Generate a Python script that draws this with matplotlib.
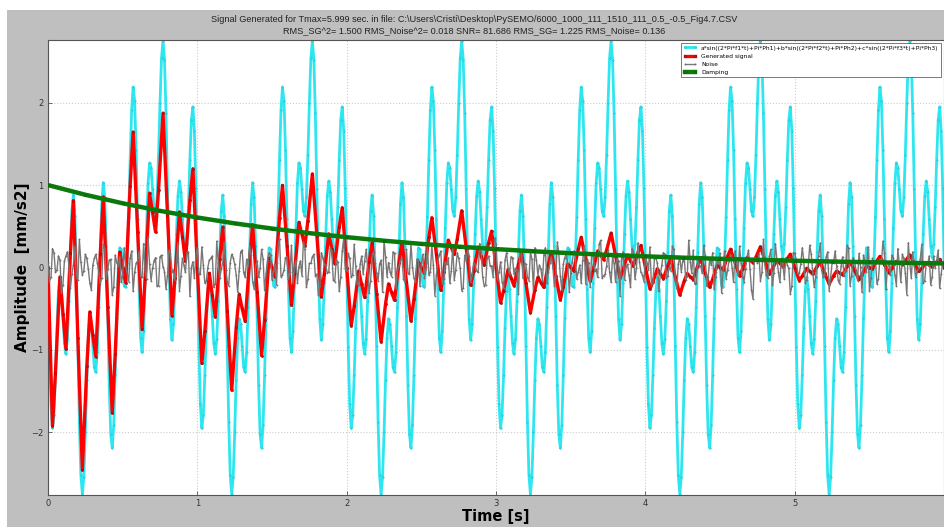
import matplotlib
matplotlib.use('Agg')
import matplotlib.pyplot as plt
from matplotlib.patches import Rectangle
import numpy as np

# --- values ------------------------------------------------------------
# pure signal, one second of it (sampled every 0.01 s); the pattern repeats each second
cyan_cycle = [0.00, -0.96, -1.66, -1.95, -1.79, -1.31, -0.73, -0.28, -0.12, -0.26,
              -0.59, -0.92, -1.05, -0.87, -0.41, 0.19, 0.69, 0.88, 0.63, -0.03,
              -0.95, -1.87, -2.52, -2.75, -2.54, -2.00, -1.36, -0.85, -0.62, -0.69,
              -0.95, -1.21, -1.27, -1.02, -0.48, 0.19, 0.77, 1.03, 0.85, 0.26,
              -0.59, -1.43, -2.02, -2.19, -1.91, -1.31, -0.61, -0.05, 0.24, 0.22,
              0.00, -0.22, -0.24, 0.05, 0.61, 1.31, 1.91, 2.19, 2.02, 1.43,
              0.59, -0.26, -0.85, -1.03, -0.77, -0.19, 0.48, 1.02, 1.27, 1.21,
              0.95, 0.69, 0.62, 0.85, 1.36, 2.00, 2.54, 2.75, 2.52, 1.87,
              0.95, 0.03, -0.63, -0.88, -0.69, -0.19, 0.41, 0.87, 1.05, 0.92,
              0.59, 0.26, 0.12, 0.28, 0.73, 1.31, 1.79, 1.95, 1.66, 0.96]

# generated (damped) signal: sample positions inside each second, in 1/100 s
red_k = [0, 3, 5, 8, 10, 12, 15, 17, 20, 23, 26, 28, 30, 32, 35, 37, 40, 43, 45, 48,
         50, 52, 55, 57, 60, 63, 65, 68, 70, 72, 74, 77, 80, 83, 85, 88, 90, 92, 95, 97]
red_s0 = [0, -1.919, -1.277, -0.114, -0.559, -0.987, 0.177, 0.812, -0.860, -2.453,
          -1.195, -0.538, -0.819, -1.080, 0.160, 0.857, -0.481, -1.763, -1.045, 0.187,
          0, -0.184, 0.994, 1.644, 0.436, -0.752, -0.138, 0.903, 0.670, 0.432,
          0.940, 1.873, 0.637, -0.584, -0.125, 0.675, 0.375, 0.075, 0.814, 1.199]
red_s1 = [0, -1.164, -0.775, -0.069, -0.339, -0.599, 0.107, 0.492, -0.522, -1.488,
          -0.725, -0.326, -0.497, -0.655, 0.097, 0.520, -0.292, -1.069, -0.634, 0.113,
          0, -0.112, 0.603, 0.997, 0.264, -0.456, -0.084, 0.548, 0.406, 0.262,
          0.570, 1.136, 0.386, -0.354, -0.076, 0.409, 0.227, 0.045, 0.494, 0.727]
red_s2 = [0, -0.706, -0.470, -0.042, -0.206, -0.363, 0.065, 0.299, -0.316, -0.902,
          -0.440, -0.198, -0.301, -0.397, 0.059, 0.315, -0.177, -0.649, -0.384, 0.069,
          0, -0.068, 0.366, 0.605, 0.160, -0.277, -0.051, 0.332, 0.246, 0.159,
          0.346, 0.689, 0.234, -0.215, -0.046, 0.248, 0.138, 0.028, 0.299, 0.441]
red_s3 = [0, -0.428, -0.285, -0.025, -0.125, -0.220, 0.039, 0.181, -0.192, -0.547,
          -0.267, -0.120, -0.183, -0.241, 0.036, 0.191, -0.107, -0.393, -0.233, 0.042,
          0, -0.041, 0.222, 0.367, 0.097, -0.168, -0.031, 0.201, 0.149, 0.096,
          0.210, 0.418, 0.142, -0.130, -0.028, 0.151, 0.084, 0.017, 0.182, 0.267]
red_s4 = [0, -0.260, -0.173, -0.015, -0.076, -0.134, 0.024, 0.110, -0.116, -0.332,
          -0.162, -0.073, -0.111, -0.146, 0.022, 0.116, -0.065, -0.239, -0.141, 0.025,
          0, -0.025, 0.134, 0.222, 0.059, -0.102, -0.019, 0.122, 0.091, 0.058,
          0.127, 0.253, 0.086, -0.079, -0.017, 0.091, 0.051, 0.010, 0.110, 0.162]
red_s5 = [0, -0.158, -0.105, -0.009, -0.046, -0.081, 0.015, 0.067, -0.071, -0.201,
          -0.098, -0.044, -0.067, -0.089, 0.013, 0.070, -0.039, -0.145, -0.086, 0.015,
          0, -0.015, 0.082, 0.135, 0.036, -0.062, -0.011, 0.074, 0.055, 0.035,
          0.077, 0.154, 0.052, -0.048, -0.010, 0.055, 0.031, 0.006, 0.067, 0.098]

# noise in hundredths of mm/s2: samples at t = 0.00, 0.02, 0.04 ... (a)
# and at t = 0.01, 0.03, 0.05 ... (b)
noise_a = [
    5, -12, 18, -3, 9, -21, 14, 2, -8, 26, -15, 7, -4, 11, -19, 3, 16, -7, -13, 22,
    -2, 10, -24, 6, 13, -9, 1, -17, 20, -6, 8, -11, 29, -14, 4, -1, 12, -22, 15, -5,
    -10, 17, -3, 7, -28, 11, -6, 19, 0, -13, 24, -8, 3, -16, 9, 14, -20, 5, -2, 31,
    -18, 6, 12, -9, -4, 21, -12, 2, 15, -26, 8, -1, 10, -7, 18, -15, 4, 27, -11, -3,
    13, -6, -19, 9, 1, -10, 23, -14, 5, 16, -8, -23, 12, 3, -5, 20, -17, 7, -12, 36,
    -4, 11, -9, 2, -21, 14, 8, -2, -16, 19, -7, 4, -30, 13, 6, -11, 17, -3, 9, -14,
    22, -8, 1, -18, 10, 5, -13, 25, -6, 3, -9, 15, -20, 7, 12, -4, -15, 18, -1, -25,
    8, 14, -10, 3, -6, 19, -22, 11, 2, -12, 28, -5, -17, 9, 0, 13, -8, -3, 21, -13,
    4, -16, 10, 24, -9, -2, 15, -19, 6, 1, -11, 17, -27, 12, 5, -7, 20, -14, 3, 9,
    -20, 6, 16, -4, -12, 33, -10, 2, -6, 13, -18, 8, 11, -15, 4, -24, 19, -1, 7, -9,
    14, -3, -21, 10, 5, -8, 18, -13, 1, 26, -16, 4, -5, 12, -10, 7, 21, -19, 2, -7,
    15, -11, 3, -26, 9, 17, -4, -14, 8, 0, 20, -9, 6, -17, 13, -2, -38, 11, 16, -6,
    3, -13, 22, -7, 10, -18, 5, 12, -1, -23, 17, -8, 4, 9, -15, 27, -5, -11, 14, -3,
    -9, 19, -12, 6, 2, -20, 13, -4, 24, -10, 7, -16, 1, 15, -6, -28, 11, 8, -14, 5,
    18, -2, -9, 12, -22, 4, 16, -7, 30, -13, 2, -5, 10, -19, 6, 14, -11, -1, 21, -8]
noise_b = [
    -17, 23, -6, 14, -31, 8, 19, -25, 3, -12, 34, -9, 16, -2, -27, 11, 6, -20, 28, -14,
    9, -33, 15, 2, -18, 24, -7, 12, -29, 5, 20, -11, -4, 37, -16, 8, -23, 13, 1, -26,
    21, -5, -15, 30, -10, 3, 18, -35, 7, 14, -8, 25, -19, 0, 11, -24, 32, -13, 6, -3,
    -22, 16, 4, -30, 19, -6, 10, 26, -17, 2, -12, 22, -28, 9, 15, -4, -21, 35, -9, 12,
    -14, 27, -1, -19, 8, 31, -24, 5, 13, -10, -33, 18, 3, -7, 24, -15, 10, -29, 20, -2,
    17, -12, 28, -20, 4, -8, 22, -31, 14, 6, -16, 9, 33, -11, -5, 19, -26, 2, 12, -18,
    -7, 30, -13, 10, -23, 16, 1, -9, 27, -34, 8, 20, -14, 4, -19, 25, -3, 11, -28, 15,
    23, -17, 6, -4, 29, -11, -21, 14, 2, 36, -15, 7, -25, 18, -8, 12, -1, -32, 21, 5,
    -12, 19, -27, 9, 3, -16, 24, -6, 13, -22, 31, -10, 4, 17, -30, 7, 15, -5, -19, 26,
    10, -24, 14, -2, 28, -13, -8, 21, -18, 5, 11, -35, 19, 1, -9, 23, -14, 30, -6, -17,
    6, 25, -19, 12, -29, 3, 16, -10, -4, 22, -26, 13, 8, -15, 33, -7, -20, 10, 2, 27,
    -23, 9, 18, -12, 4, -31, 20, -3, 15, -18, 7, 26, -11, -2, 21, -27, 12, 5, -16, 34,
    -9, 14, -21, 29, -5, 11, -14, 3, -32, 18, 9, -7, 24, -19, 1, 16, -24, 8, 30, -12,
    13, -28, 6, 20, -15, 2, -10, 27, -22, 12, -3, 17, -30, 8, 25, -13, 4, -20, 10, 32,
    -26, 7, 15, -9, 23, -18, 11, -33, 5, 19, -12, -1, 28, -16, 3, -21, 14, 9, -25, 6]

# damping envelope, every 0.25 s
damping = [1.000, 0.8825, 0.7788, 0.6873, 0.6065, 0.5353, 0.4724, 0.4169, 0.3679,
           0.3247, 0.2865, 0.2528, 0.2231, 0.1969, 0.1738, 0.1534, 0.1353, 0.1194,
           0.1054, 0.0930, 0.0821, 0.0724, 0.0639, 0.0564, 0.0498]

title_1 = r"Signal Generated for Tmax=5.999 sec. in file: C:\Users\Cristi\Desktop\PySEMO/6000_1000_111_1510_111_0.5_-0.5_Fig4.7.CSV"
title_2 = "RMS_SG^2= 1.500 RMS_Noise^2= 0.018 SNR= 81.686 RMS_SG= 1.225 RMS_Noise= 0.136"
labels = ["a*sin((2*Pi*f1*t)+Pi*Ph1)+b*sin((2*Pi*f2*t)+Pi*Ph2)+c*sin((2*Pi*f3*t)+Pi*Ph3)",
          "Generated signal", "Noise", "Damping"]

# --- build series --------------------------------------------------------
n_sec = 6
t_cyan = np.arange(100 * n_sec + 1) * 0.01
cyan = cyan_cycle * n_sec + [0.0]

red_t = [n + k / 100 for n in range(n_sec) for k in red_k] + [6.0]
red = red_s0 + red_s1 + red_s2 + red_s3 + red_s4 + red_s5 + [0.0]

noise = np.empty(len(noise_a) + len(noise_b))
noise[0::2] = noise_a
noise[1::2] = noise_b
noise = noise / 100
t_noise = np.arange(len(noise)) * 0.01

t_damp = np.arange(len(damping)) * 0.25

plt.rcParams['xtick.direction'] = 'in'
plt.rcParams['ytick.direction'] = 'in'

fig = plt.figure(figsize=(9.44, 5.27), dpi=100, facecolor='#bfbfbf')
# thin white margin top and left, as in the screenshot
fig.patches.append(Rectangle((0, 1 - 10 / 527), 1, 10 / 527, transform=fig.transFigure,
                             facecolor='white', edgecolor='none', zorder=-1))
fig.patches.append(Rectangle((0, 0), 7 / 944, 1, transform=fig.transFigure,
                             facecolor='white', edgecolor='none', zorder=-1))

ax = fig.add_axes([48 / 944, 1 - 495 / 527, 896 / 944, 455 / 527])

ax.plot(t_cyan, cyan, color='#2ee6f0', lw=2.0, marker='.', ms=2.2,
        mfc='#2ee6f0', mec='#1cb8c6', mew=0.3, label=labels[0], zorder=2)
ax.plot(red_t, red, color='red', lw=2.4, marker='.', ms=3,
        mfc='red', mec='#701010', mew=0.4, label=labels[1], zorder=3)
ax.plot(t_noise, noise, color='#787878', lw=1.0, marker='.', ms=1.8,
        mfc='#8a8a8a', mec='#5a5a5a', mew=0.3, label=labels[2], zorder=4)
ax.plot(t_damp, damping, color='#0a7a0a', lw=3.2, marker='.', ms=3,
        mfc='#0a7a0a', mec='#0a4a0a', mew=0.3, label=labels[3], zorder=5)

ax.set_xlim(0, 5.999)
ax.set_ylim(-2.76, 2.76)
ax.set_xticks([0, 1, 2, 3, 4, 5])
ax.set_yticks([-2, -1, 0, 1, 2])
ax.tick_params(labelsize=6, length=3, width=0.5, colors='#333333', pad=3)
ax.grid(True, color='#cccccc', ls=':', lw=0.8)
for s in ax.spines.values():
    s.set_color('#555555')
    s.set_linewidth(0.8)

ax.set_xlabel('Time [s]', fontsize=10.5, fontweight='bold', va='center')
ax.xaxis.set_label_coords(0.5, -(517 - 495) / 455)
ax.set_ylabel('Amplitude  [mm/s2]', fontsize=11, fontweight='bold', va='center')
ax.yaxis.set_label_coords(-(48 - 23) / 896, 0.5)

# two title lines; size the font so line 1 spans about 522 px like the reference
t1 = fig.text(474 / 944, 1 - 19 / 527, title_1, ha='center', va='center',
              fontsize=7.3, family='Liberation Sans', color='#222222')
t2 = fig.text(474 / 944, 1 - 31 / 527, title_2, ha='center', va='center',
              fontsize=7.3, family='Liberation Sans', color='#222222')
renderer = fig.canvas.get_renderer()
w = t1.get_window_extent(renderer).width
size = 7.3 * 522 / w
t1.set_fontsize(size)
t2.set_fontsize(size)

leg = ax.legend(loc='upper right', fontsize=4.3, numpoints=2, handlelength=2.2,
                labelspacing=0.5, borderpad=0.4, fancybox=False, framealpha=1)
leg.get_frame().set_edgecolor('#444444')
leg.get_frame().set_linewidth(0.5)

fig.savefig('out.png', dpi=100, facecolor=fig.get_facecolor())
